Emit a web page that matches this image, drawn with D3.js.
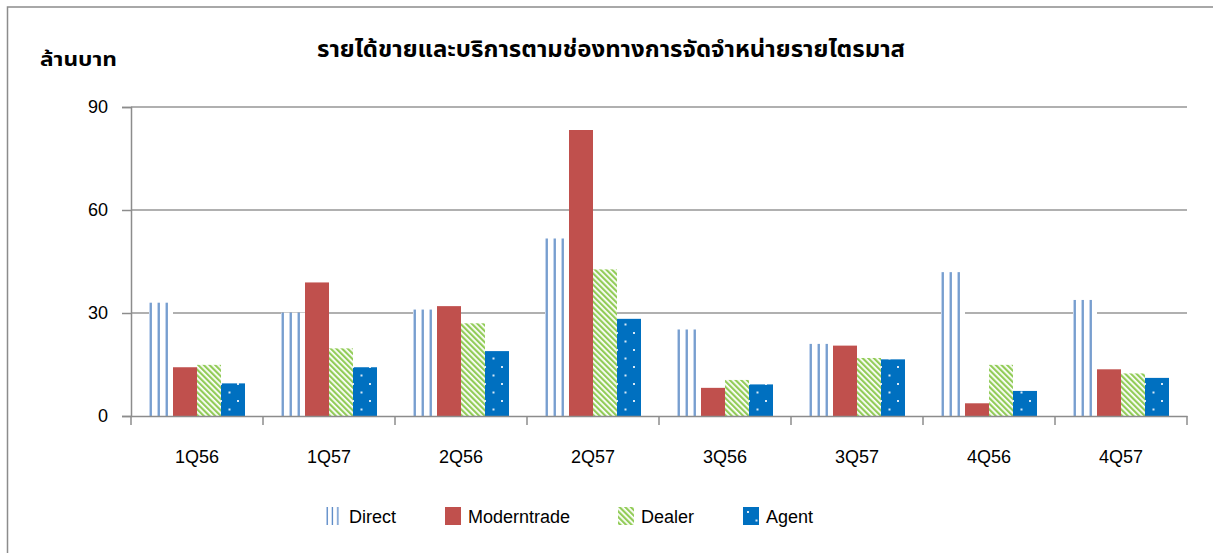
<!DOCTYPE html>
<html lang="th">
<head>
  <meta charset="UTF-8">
  <title>รายได้ขายและบริการ</title>
  <script src="https://d3js.org/d3.v7.min.js"></script>
  <style>
    body { margin: 0; background: #fff; }
    text { font-family: "Liberation Sans", Arial, sans-serif; fill: #000; }
    .thai { font-family: "Noto Sans Thai", "Noto Sans", "Liberation Sans", sans-serif; font-weight: bold; }
  </style>
</head>
<body>
<div id="chart"></div>
<script>
// data (ล้านบาท)
const quarters = ["1Q56", "1Q57", "2Q56", "2Q57", "3Q56", "3Q57", "4Q56", "4Q57"];
const seriesNames = ["Direct", "Moderntrade", "Dealer", "Agent"];
const direct      = [33.0, 30.1, 31.0, 51.7, 25.2, 21.0, 41.9, 33.8];
const moderntrade = [14.2, 38.9, 32.0, 83.3, 8.2, 20.5, 3.7, 13.6];
const dealer      = [14.9, 19.7, 27.0, 42.7, 10.5, 16.9, 14.9, 12.4];
const agent       = [9.5, 14.2, 18.9, 28.3, 9.2, 16.5, 7.3, 11.1];
const yTicks = [0, 30, 60, 90];
const title = "รายได้ขายและบริการตามช่องทางการจัดจำหน่ายรายไตรมาส";
const yLabel = "ล้านบาท";

const values = [direct, moderntrade, dealer, agent];
const data = quarters.map((q, i) => ({
  q: q,
  vals: seriesNames.map((s, j) => ({ s: s, v: values[j][i] }))
}));

const W = 1213, H = 553;
const margin = { top: 107, right: 26, bottom: 137, left: 131 };
const gw = W - margin.left - margin.right;
const gh = H - margin.top - margin.bottom;

const svg = d3.select("#chart").append("svg")
  .attr("width", W)
  .attr("height", H);

// patterns
const defs = svg.append("defs");

const pDirect = defs.append("pattern")
  .attr("id", "pDirect")
  .attr("patternUnits", "objectBoundingBox")
  .attr("width", 1 / 3).attr("height", 1)
  .attr("viewBox", "0 0 8 1")
  .attr("preserveAspectRatio", "none");
pDirect.append("rect").attr("width", 8).attr("height", 1).attr("fill", "#fff");
pDirect.append("rect").attr("x", 0.3).attr("width", 1).attr("height", 1).attr("fill", "#a9c2e6");
pDirect.append("rect").attr("x", 1.3).attr("width", 1.4).attr("height", 1).attr("fill", "#4a7ebf");

const pDealer = defs.append("pattern")
  .attr("id", "pDealer")
  .attr("patternUnits", "userSpaceOnUse")
  .attr("width", 4).attr("height", 4)
  .attr("patternTransform", "rotate(-45)");
pDealer.append("rect").attr("width", 4).attr("height", 4).attr("fill", "#fff");
pDealer.append("rect").attr("width", 2.2).attr("height", 4).attr("fill", "#92cc58");

const pAgent = defs.append("pattern")
  .attr("id", "pAgent")
  .attr("patternUnits", "userSpaceOnUse")
  .attr("width", 17).attr("height", 17);
pAgent.append("rect").attr("width", 17).attr("height", 17).attr("fill", "#0070c0");
pAgent.append("rect").attr("x", 4).attr("y", 4).attr("width", 2).attr("height", 2).attr("fill", "#d8e8f6");
pAgent.append("rect").attr("x", 12.5).attr("y", 12.5).attr("width", 2).attr("height", 2).attr("fill", "#d8e8f6");

const fills = {
  Direct: "url(#pDirect)",
  Moderntrade: "#c0504d",
  Dealer: "url(#pDealer)",
  Agent: "url(#pAgent)"
};

// outer frame
svg.append("path")
  .attr("d", `M7.5,${H} V7 H${W}`)
  .attr("fill", "none")
  .attr("stroke", "#8c8c8c")
  .attr("stroke-width", 1.5);

// title + axis label
svg.append("text")
  .attr("class", "thai")
  .attr("x", 317).attr("y", 57)
  .attr("font-size", 23)
  .attr("textLength", 588)
  .attr("lengthAdjust", "spacingAndGlyphs")
  .text(title);

svg.append("text")
  .attr("class", "thai")
  .attr("x", 40).attr("y", 66)
  .attr("font-size", 20)
  .attr("textLength", 77)
  .attr("lengthAdjust", "spacingAndGlyphs")
  .text(yLabel);

const graph = svg.append("g")
  .attr("transform", `translate(${margin.left},${margin.top})`);

const y = d3.scaleLinear().domain([0, 90]).range([gh, 0]);
const x = d3.scaleBand().domain(quarters).range([0, gw]).padding(0);
const xs = d3.scaleBand().domain(seriesNames)
  .range([18, x.bandwidth() - 18]).padding(0);

// gridlines
graph.append("g")
  .selectAll("line")
  .data(yTicks.filter(d => d > 0))
  .join("line")
  .attr("x1", 0).attr("x2", gw)
  .attr("y1", d => y(d)).attr("y2", d => y(d))
  .attr("stroke", "#969696")
  .attr("stroke-width", 1.5);

// bars
const groups = graph.append("g")
  .selectAll("g")
  .data(data)
  .join("g")
  .attr("transform", d => `translate(${x(d.q)},0)`);

groups.selectAll("rect")
  .data(d => d.vals)
  .join("rect")
  .attr("x", d => xs(d.s))
  .attr("y", d => y(d.v))
  .attr("width", xs.bandwidth())
  .attr("height", d => gh - y(d.v))
  .attr("fill", d => fills[d.s]);

// axes
const yAxis = d3.axisLeft(y).tickValues(yTicks).tickSize(9).tickPadding(14);
const yg = graph.append("g").call(yAxis);
yg.select(".domain").attr("stroke", "#8c8c8c").attr("stroke-width", 1.5);
yg.selectAll(".tick line").attr("stroke", "#8c8c8c").attr("stroke-width", 1.5);
yg.selectAll("text").attr("font-size", 18).attr("fill", "#000")
  .attr("font-family", "'Liberation Sans', Arial, sans-serif");

const xAxis = d3.axisBottom(x).tickSize(0).tickPadding(34);
const xg = graph.append("g").attr("transform", `translate(0,${gh})`).call(xAxis);
xg.select(".domain").attr("stroke", "#8c8c8c").attr("stroke-width", 1.5);
xg.selectAll("text").attr("font-size", 18).attr("fill", "#000")
  .attr("font-family", "'Liberation Sans', Arial, sans-serif");
xg.append("g")
  .selectAll("line")
  .data(d3.range(quarters.length + 1))
  .join("line")
  .attr("x1", i => i * x.step()).attr("x2", i => i * x.step())
  .attr("y1", 0).attr("y2", 9)
  .attr("stroke", "#8c8c8c").attr("stroke-width", 1.5);

// legend
const legendX = [326, 445, 618, 743];
const legend = svg.append("g")
  .selectAll("g")
  .data(seriesNames)
  .join("g")
  .attr("transform", (d, i) => `translate(${legendX[i]},507)`);
legend.append("rect")
  .attr("width", 16).attr("height", 18)
  .attr("fill", d => fills[d]);
legend.append("text")
  .attr("x", 23).attr("y", 15.5)
  .attr("font-size", 18)
  .text(d => d);
</script>
</body>
</html>
